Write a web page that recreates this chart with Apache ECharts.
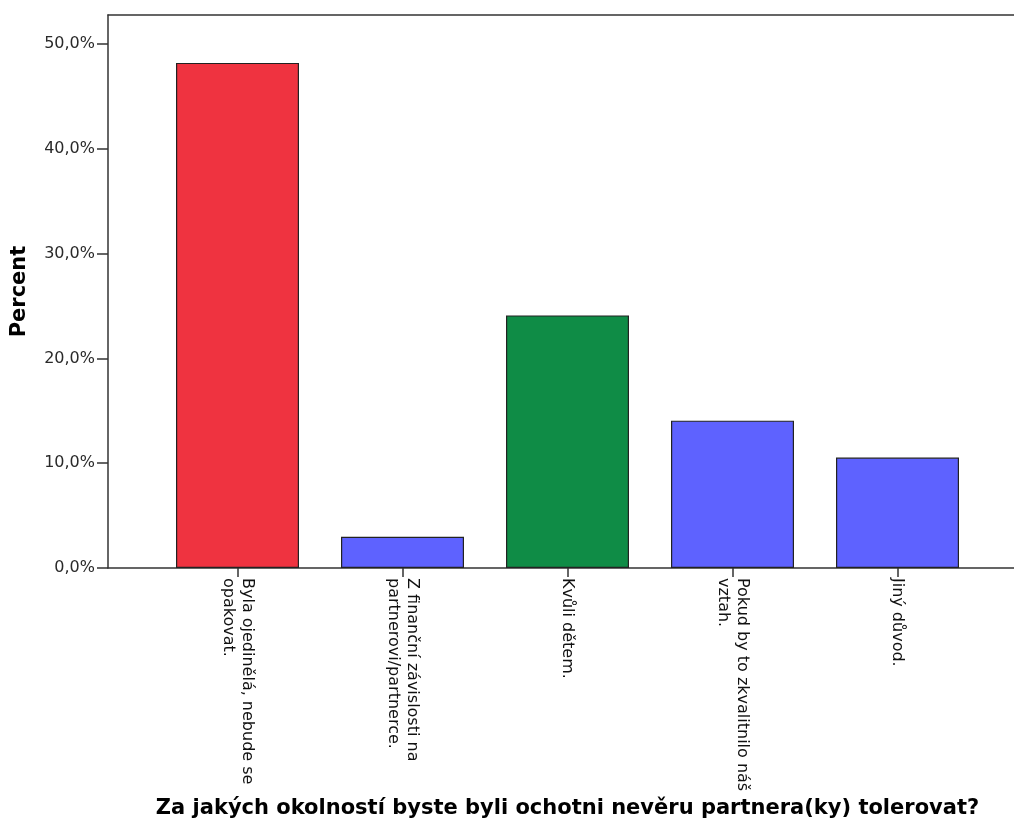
<!DOCTYPE html>
<html>
<head>
<meta charset="utf-8">
<script src="https://cdn.jsdelivr.net/npm/echarts@6/dist/echarts.min.js"></script>
<style>
html,body{margin:0;padding:0;background:#fff;}
#c{width:1014px;height:839px;}
</style>
</head>
<body>
<div id="c"></div>
<script>
var categories = [
  'Byla ojedinělá, nebude se\nopakovat.',
  'Z finanční závislosti na\npartnerovi/partnerce.',
  'Kvůli dětem.',
  'Pokud by to zkvalitnilo náš\nvztah.',
  'Jiný důvod.'
];
var percentValues = [48.19, 2.98, 24.10, 14.06, 10.54];
var barColors = ['#EF3340', '#5E62FF', '#0F8C46', '#5E62FF', '#5E62FF'];
var yTicks = [0, 10, 20, 30, 40, 50];
var yMax = 52.76;
var xTitle = 'Za jakých okolností byste byli ochotni nevěru partnera(ky) tolerovat?';
var yTitle = 'Percent';

var chart = echarts.init(document.getElementById('c'), null, {renderer: 'canvas'});
var fmt = function (v) { return v.toFixed(1).replace('.', ',') + '%'; };
var frameLine = {show: true, lineStyle: {color: '#333', width: 1.5}};

chart.setOption({
  animation: false,
  backgroundColor: '#fff',
  grid: [
    {left: 108, right: 0, top: 15, bottom: 271},
    {left: 155, width: 825, top: 15, bottom: 271}
  ],
  xAxis: [
    {gridIndex: 0, type: 'value', min: 0, max: 1, position: 'bottom',
     axisLine: frameLine, axisTick: {show: false}, axisLabel: {show: false}, splitLine: {show: false}},
    {gridIndex: 0, type: 'value', min: 0, max: 1, position: 'top',
     axisLine: frameLine, axisTick: {show: false}, axisLabel: {show: false}, splitLine: {show: false}},
    {
      gridIndex: 1, type: 'category', data: categories,
      axisLine: {show: false},
      axisTick: {show: true, alignWithLabel: true, length: 9, lineStyle: {color: '#333', width: 1.5}},
      axisLabel: {
        rotate: -90, margin: 10, interval: 0,
        fontFamily: 'DejaVu Sans', fontSize: 16, color: '#111', lineHeight: 19
      },
      name: xTitle, nameLocation: 'middle', nameGap: 230, nameMoveOverlap: false,
      nameTextStyle: {fontFamily: 'DejaVu Sans', fontWeight: 'bold', fontSize: 21, color: '#000'}
    }
  ],
  yAxis: [
    {
      gridIndex: 0, type: 'value', min: 0, max: yMax,
      axisLine: frameLine,
      axisTick: {show: true, length: 11, customValues: yTicks, lineStyle: {color: '#333', width: 1.5}},
      axisLabel: {customValues: yTicks, formatter: fmt, margin: 13, fontFamily: 'DejaVu Sans', fontSize: 16, color: '#2a2a2a'},
      splitLine: {show: false},
      name: yTitle, nameLocation: 'middle', nameGap: 78, nameRotate: 90, nameMoveOverlap: false,
      nameTextStyle: {fontFamily: 'DejaVu Sans', fontWeight: 'bold', fontSize: 21, color: '#000'}
    },
    {gridIndex: 1, type: 'value', min: 0, max: yMax, show: false}
  ],
  series: [{
    type: 'bar',
    xAxisIndex: 2, yAxisIndex: 1,
    barWidth: 123,
    data: percentValues.map(function (v, i) {
      return {value: v, itemStyle: {color: barColors[i], borderColor: '#222', borderWidth: 1.2}};
    })
  }]
});
</script>
</body>
</html>
